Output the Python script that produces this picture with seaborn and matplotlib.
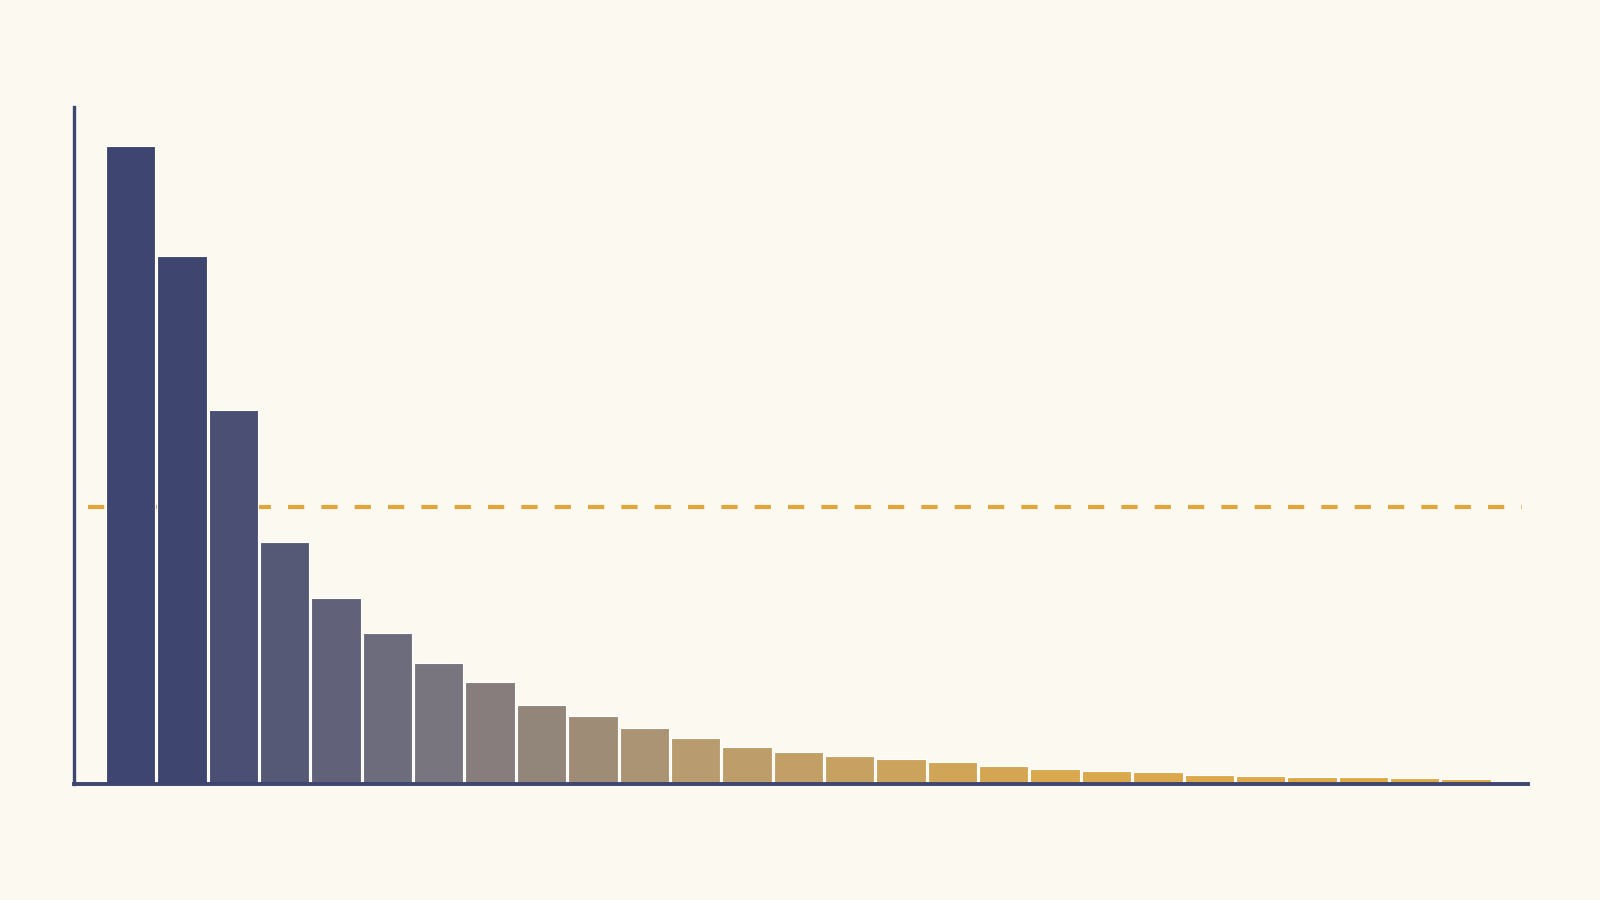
import numpy as np
import pandas as pd
import matplotlib.pyplot as plt
import matplotlib.colors as mcolors
import seaborn as sns

# Valores (altura de cada barra)
rank = [str(i) for i in range(1, 28)]
value = [62.5, 51.7, 36.6, 23.7, 18.2, 14.8, 11.8, 10.0, 7.7, 6.6, 5.5, 4.5, 3.6,
         3.1, 2.7, 2.4, 2.1, 1.7, 1.4, 1.2, 1.1, 0.9, 0.8, 0.7, 0.65, 0.52, 0.46]
threshold = 27.1

df = pd.DataFrame({'rank': rank, 'value': value})

# Degradado azul -> gris -> ámbar
stops = [0, 1, 6, 11, 18, 26]
stop_colors = ['#3d4570', '#3e4670', '#79757f', '#b89c70', '#d9a84f', '#e0aa42']
rgb = np.array([mcolors.to_rgb(c) for c in stop_colors])
idx = np.arange(len(rank))
palette = [tuple(np.interp(i, stops, rgb[:, k]) for k in range(3)) for i in idx]

bg = '#fcf9f1'
navy = '#3d4570'

sns.set_theme(style='white')
fig = plt.figure(figsize=(16, 9), dpi=100, facecolor=bg)
ax = fig.add_axes([0.046, 0.1292, 0.9088, 0.7518])
ax.set_facecolor(bg)

ax.hlines(threshold, -0.83, 27.08, colors='#e0a63c', linewidth=3,
          linestyles=(0, (3.9, 4.1)), zorder=1)

sns.barplot(data=df, x='rank', y='value', hue='rank', palette=palette,
            legend=False, width=0.96, edgecolor='white', linewidth=0.8,
            saturation=1, ax=ax, zorder=2)

ax.set_xlim(-1.11, 27.2)
ax.set_ylim(0, 66.3)
ax.set_xticks([])
ax.set_yticks([])
ax.set_xlabel('')
ax.set_ylabel('')
for s in ['top', 'right']:
    ax.spines[s].set_visible(False)
for s in ['left', 'bottom']:
    ax.spines[s].set_color(navy)
    ax.spines[s].set_zorder(3)
ax.spines['left'].set_linewidth(2.4)
ax.spines['bottom'].set_linewidth(2.8)

fig.savefig('out.png', dpi=100, facecolor=bg)
